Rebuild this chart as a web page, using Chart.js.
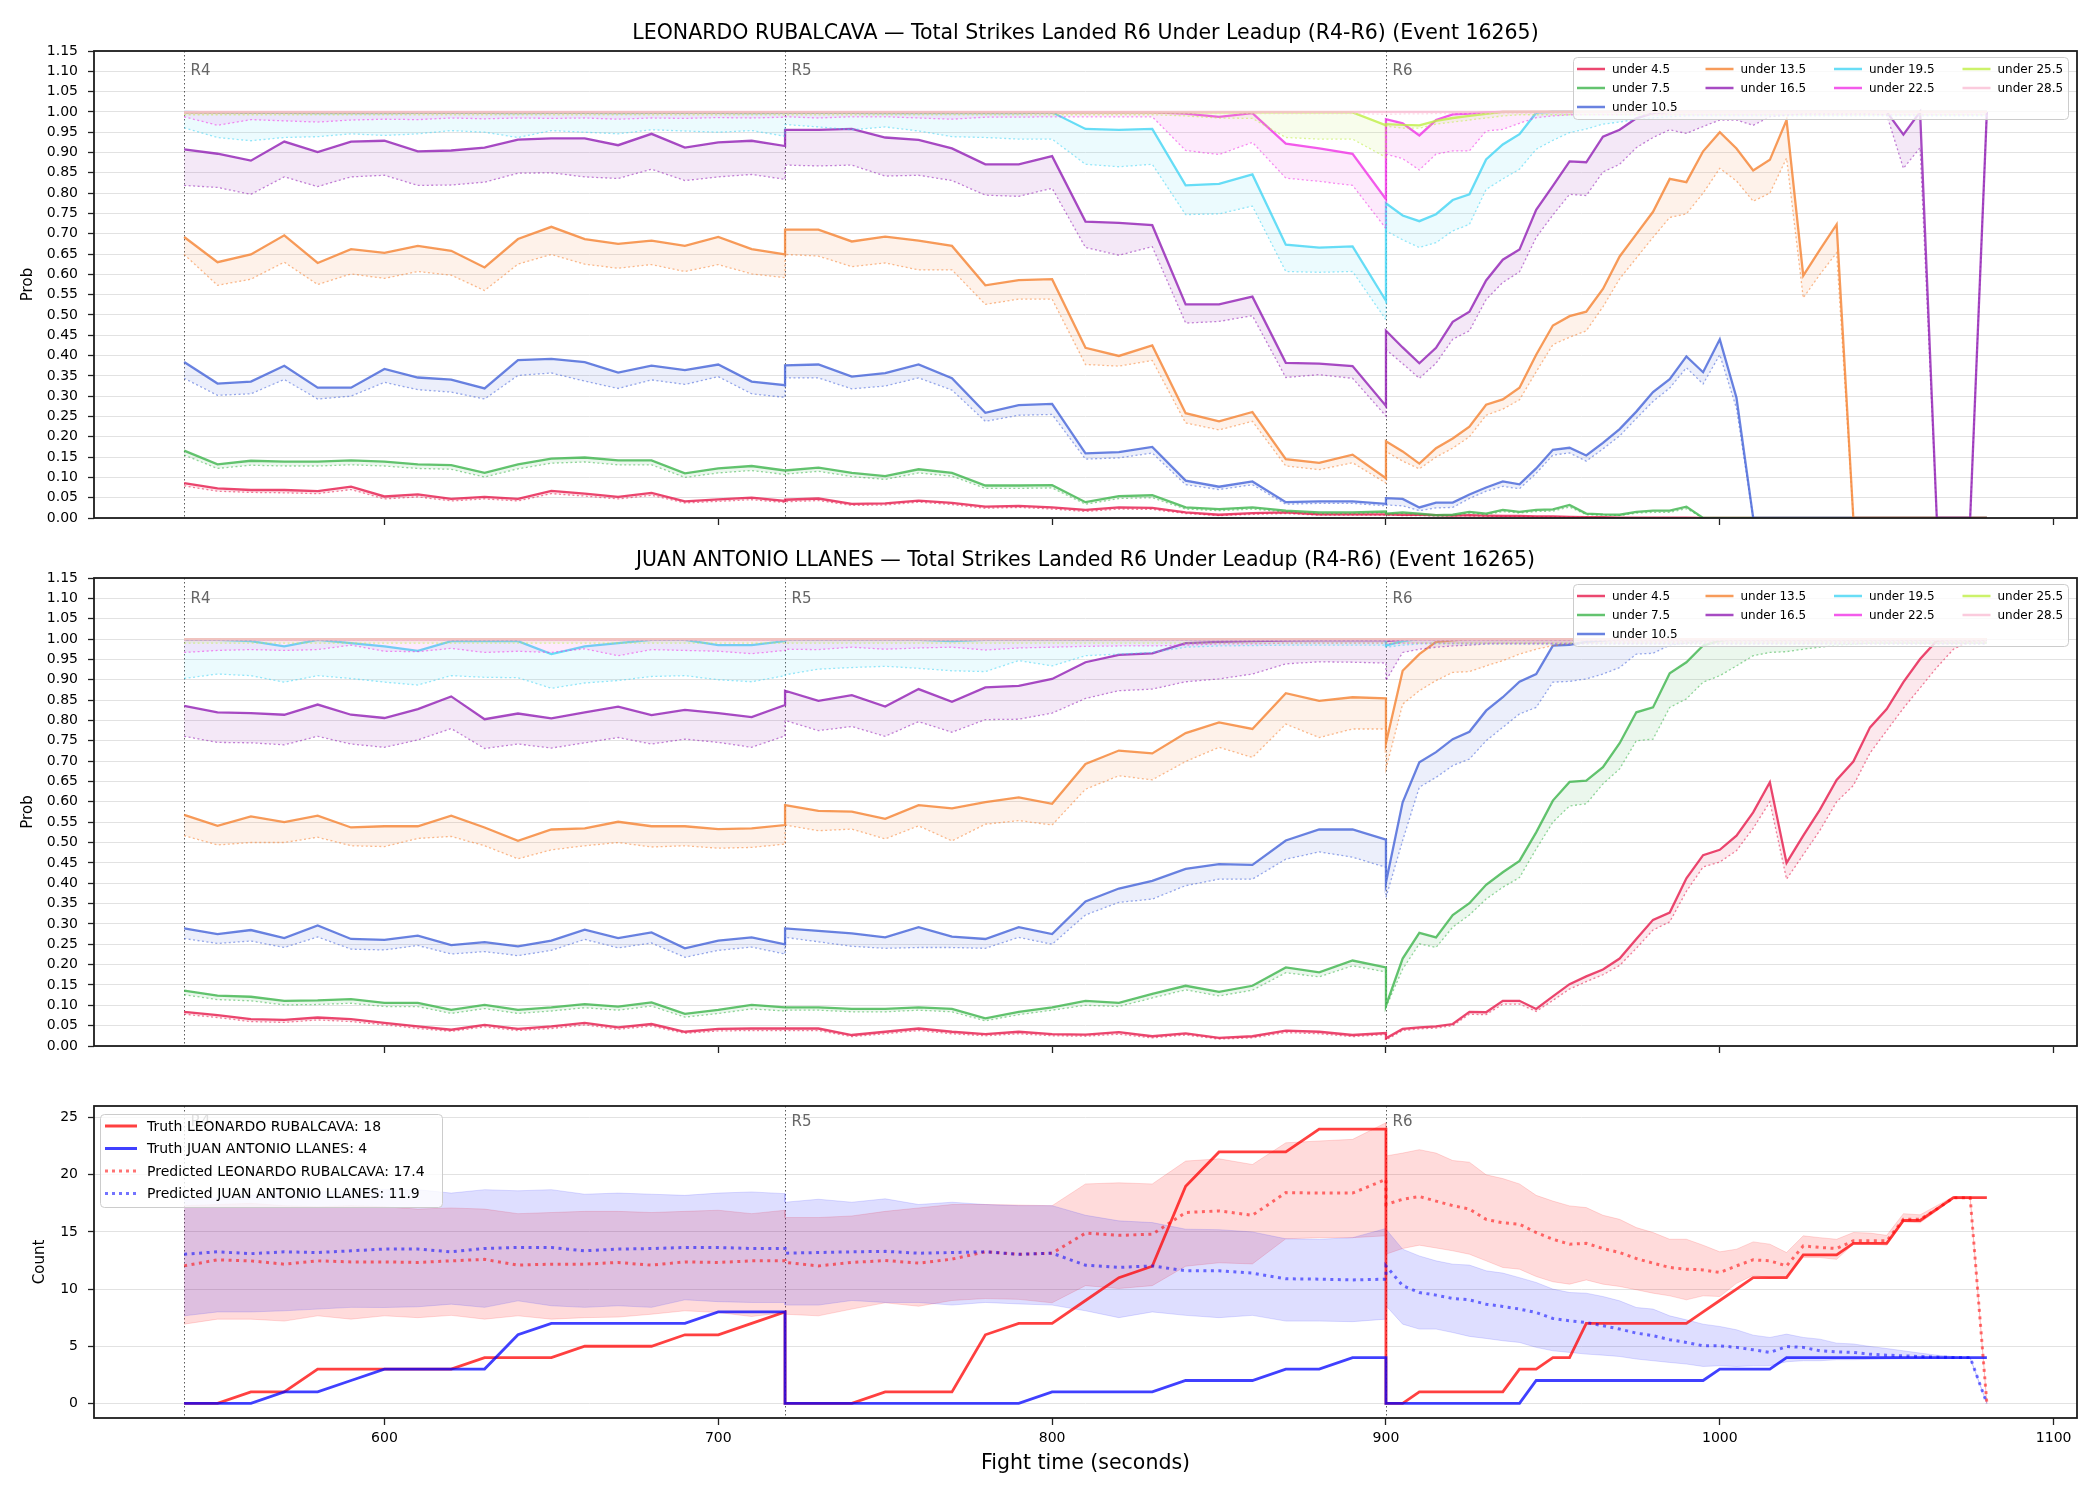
<!DOCTYPE html>
<html>
<head>
<meta charset="utf-8">
<script src="https://cdn.jsdelivr.net/npm/chart.js@4.4.1/dist/chart.umd.min.js"></script>
<style>
  html, body { margin: 0; padding: 0; background: #fff; }
  #wrap { position: relative; width: 2100px; height: 1500px; background: #fff; }
  canvas { position: absolute; left: 0; }
</style>
</head>
<body>
<div id="wrap">
  <canvas id="leoChart" width="2100" height="530" style="top:0px"></canvas>
  <canvas id="juanChart" width="2100" height="530" style="top:530px"></canvas>
  <canvas id="countChart" width="2100" height="440" style="top:1060px"></canvas>
</div>
<script>
// fight time in seconds: R4/R5 every 10s, R6 every 5s (round boundaries repeated)
const times = [
  540,550,560,570,580,590,600,610,620,630,640,650,660,670,680,690,700,710,720,
  720,730,740,750,760,770,780,790,800,810,820,830,840,850,860,870,880,890,900,
  900,905,910,915,920,925,930,935,940,945,950,955,960,965,970,975,980,985,990,995,
  1000,1005,1010,1015,1020,1025,1030,1035,1040,1045,1050,1055,1060,1065,1070,1075,1080
];

const roundStarts = [540, 720, 900];
const roundNames = ['R4', 'R5', 'R6'];
const timeTicks = [600, 700, 800, 900, 1000, 1100];
const timeTickLabels = ['600', '700', '800', '900', '1000', '1100'];
const probTicks = [0,0.05,0.1,0.15,0.2,0.25,0.3,0.35,0.4,0.45,0.5,0.55,0.6,0.65,0.7,0.75,0.8,0.85,0.9,0.95,1,1.05,1.1,1.15];
const probTickLabels = ['0.00','0.05','0.10','0.15','0.20','0.25','0.30','0.35','0.40','0.45','0.50','0.55','0.60','0.65','0.70','0.75','0.80','0.85','0.90','0.95','1.00','1.05','1.10','1.15'];
const countTicks = [0, 5, 10, 15, 20, 25];
const countTickLabels = ['0', '5', '10', '15', '20', '25'];

const lineNames = ['under 4.5','under 7.5','under 10.5','under 13.5','under 16.5','under 19.5','under 22.5','under 25.5','under 28.5'];
const lineColors = ['#e6194b','#3cb44b','#4363d8','#f58231','#911eb4','#42d4f4','#f032e6','#bfef45','#fabed4'];

// ---------- LEONARDO RUBALCAVA ----------
const leoU45 = [
  0.086,0.073,0.069,0.069,0.066,0.077,0.053,0.058,0.047,0.052,0.047,0.067,0.060,0.052,0.062,0.041,0.046,0.050,0.042,
  0.045,0.048,0.035,0.036,0.043,0.037,0.028,0.030,0.026,0.020,0.026,0.025,0.014,0.008,0.012,0.014,0.009,0.009,0.009,
  0.009,0.008,0.008,0.007,0.006,0.007,0.006,0.005,0.005,0.004,0.004,0.003,0.002,0.002,0.001,0.001,0.001,0.001,0.001,
  0,0,0,0,0,0,0,0,0,0,0,0,0,0,0,0,0,0
];
const leoU45lo = [
  0.079,0.066,0.063,0.062,0.060,0.070,0.047,0.052,0.042,0.047,0.042,0.060,0.054,0.047,0.056,0.037,0.041,0.045,0.038,
  0.040,0.043,0.031,0.032,0.039,0.033,0.024,0.026,0.022,0.016,0.022,0.021,0.011,0.006,0.009,0.011,0.007,0.007,0.007,
  0.007,0.006,0.006,0.005,0.005,0.005,0.004,0.004,0.004,0.003,0.003,0.002,0.002,0.001,0.001,0.001,0.001,0.001,0.001,
  0,0,0,0,0,0,0,0,0,0,0,0,0,0,0,0,0,0
];
const leoU75 = [
  0.166,0.132,0.141,0.139,0.139,0.142,0.139,0.132,0.130,0.111,0.132,0.146,0.149,0.142,0.142,0.110,0.122,0.128,0.117,
  0.117,0.124,0.111,0.103,0.120,0.111,0.080,0.080,0.081,0.039,0.054,0.056,0.026,0.022,0.026,0.018,0.014,0.014,0.016,
  0.011,0.014,0.011,0.007,0.008,0.015,0.011,0.020,0.015,0.020,0.021,0.032,0.011,0.009,0.008,0.015,0.018,0.018,0.028,
  0,0,0,0,0,0,0,0,0,0,0,0,0,0,0,0,0,0
];
const leoU75lo = [
  0.155,0.122,0.130,0.128,0.128,0.131,0.128,0.122,0.120,0.101,0.121,0.135,0.138,0.131,0.131,0.100,0.111,0.117,0.107,
  0.108,0.115,0.102,0.095,0.111,0.103,0.073,0.073,0.074,0.034,0.048,0.050,0.022,0.018,0.022,0.015,0.011,0.011,0.013,
  0.008,0.011,0.008,0.005,0.006,0.012,0.008,0.016,0.012,0.016,0.017,0.027,0.008,0.007,0.006,0.012,0.014,0.014,0.023,
  0,0,0,0,0,0,0,0,0,0,0,0,0,0,0,0,0,0
];
const leoU105 = [
  0.384,0.331,0.336,0.375,0.321,0.321,0.367,0.346,0.341,0.319,0.389,0.392,0.384,0.358,0.375,0.364,0.378,0.336,0.327,
  0.376,0.378,0.348,0.357,0.378,0.344,0.259,0.278,0.281,0.159,0.162,0.175,0.092,0.077,0.090,0.039,0.041,0.041,0.035,
  0.049,0.047,0.026,0.038,0.038,0.058,0.075,0.090,0.083,0.122,0.168,0.173,0.154,0.185,0.219,0.262,0.310,0.342,0.398,0.359,0.440,0.296,
  0,0,0,0,0,0,0,0,0,0,0,0,0,0,0
];
const leoU105lo = [
  0.344,0.302,0.306,0.341,0.293,0.300,0.334,0.316,0.310,0.293,0.351,0.357,0.337,0.319,0.340,0.329,0.348,0.306,0.297,
  0.345,0.345,0.318,0.325,0.345,0.315,0.238,0.253,0.255,0.145,0.148,0.160,0.082,0.070,0.082,0.034,0.036,0.036,0.030,
  0.032,0.030,0.018,0.025,0.026,0.048,0.066,0.078,0.072,0.110,0.155,0.160,0.140,0.170,0.202,0.245,0.287,0.320,0.370,0.330,0.402,0.270,
  0,0,0,0,0,0,0,0,0,0,0,0,0,0,0
];
const leoU135 = [
  0.692,0.630,0.649,0.696,0.628,0.662,0.653,0.670,0.658,0.617,0.687,0.717,0.687,0.675,0.683,0.670,0.692,0.662,0.649,
  0.710,0.710,0.681,0.693,0.683,0.670,0.573,0.586,0.588,0.419,0.399,0.425,0.258,0.238,0.261,0.145,0.136,0.156,0.098,
  0.189,0.164,0.134,0.172,0.196,0.225,0.279,0.292,0.321,0.402,0.474,0.497,0.508,0.564,0.644,0.699,0.754,0.835,0.827,0.903,
  0.950,0.910,0.856,0.882,0.980,0.597,0.661,0.723,
  0,0,0,0,0,0,0,0,0
];
const leoU135lo = [
  0.649,0.573,0.588,0.630,0.575,0.601,0.590,0.607,0.598,0.560,0.625,0.649,0.625,0.615,0.624,0.607,0.624,0.601,0.592,
  0.649,0.645,0.619,0.628,0.611,0.611,0.526,0.539,0.539,0.378,0.374,0.388,0.234,0.217,0.238,0.128,0.119,0.136,0.086,
  0.164,0.140,0.121,0.150,0.172,0.200,0.253,0.268,0.291,0.360,0.427,0.445,0.461,0.520,0.589,0.640,0.691,0.740,0.749,0.800,
  0.861,0.830,0.780,0.800,0.886,0.542,0.600,0.653,
  0,0,0,0,0,0,0,0,0
];
const leoU165 = [
  0.908,0.897,0.880,0.927,0.901,0.927,0.929,0.903,0.905,0.912,0.932,0.935,0.935,0.918,0.946,0.912,0.925,0.929,0.916,
  0.956,0.956,0.958,0.937,0.931,0.910,0.871,0.871,0.891,0.730,0.727,0.721,0.526,0.526,0.545,0.382,0.380,0.374,0.276,
  0.461,0.420,0.381,0.419,0.483,0.508,0.585,0.636,0.661,0.759,0.818,0.878,0.876,0.939,0.956,0.984,0.997,
  1,1,1,1,1,1,1,1,1,1,1,1,1,1,0.944,1,0,0,0,1
];
const leoU165lo = [
  0.819,0.814,0.797,0.840,0.816,0.840,0.844,0.819,0.820,0.827,0.849,0.850,0.840,0.836,0.859,0.831,0.840,0.846,0.834,
  0.869,0.867,0.869,0.842,0.844,0.831,0.795,0.792,0.812,0.666,0.647,0.668,0.480,0.484,0.498,0.346,0.353,0.344,0.251,
  0.415,0.380,0.344,0.381,0.440,0.461,0.538,0.580,0.606,0.691,0.746,0.797,0.794,0.852,0.871,0.912,0.937,0.956,0.947,0.964,
  0.980,0.980,0.967,0.988,0.992,0.995,0.995,0.995,0.995,0.995,0.993,0.861,0.912,0,0,0,1
];
const leoU195 = [
  1,0.999,0.998,0.998,0.997,0.998,0.997,0.998,0.998,0.998,0.997,0.998,0.998,0.997,0.998,0.998,0.998,0.997,0.998,
  0.998,0.998,0.998,0.997,0.998,0.997,0.997,0.997,0.999,0.958,0.956,0.958,0.819,0.823,0.846,0.673,0.666,0.669,0.535,
  0.775,0.745,0.731,0.748,0.783,0.797,0.883,0.920,0.945,0.998,
  1,1,1,1,1,1,1,1,1,1,1,1,1,1,1,1,1,1,1,1,1,1,1,1,1,1,1
];
const leoU195lo = [
  0.961,0.937,0.929,0.937,0.939,0.946,0.942,0.946,0.954,0.950,0.937,0.954,0.950,0.946,0.956,0.953,0.950,0.954,0.940,
  0.969,0.963,0.956,0.963,0.953,0.939,0.937,0.933,0.933,0.871,0.865,0.871,0.747,0.749,0.768,0.607,0.605,0.607,0.488,
  0.707,0.685,0.666,0.678,0.707,0.723,0.809,0.835,0.859,0.908,0.930,0.949,0.958,0.970,0.975,0.982,0.985,0.988,0.990,
  0.99,0.99,0.99,0.99,0.99,0.99,0.99,0.99,0.99,0.99,0.99,0.99,0.99,0.99,0.99,0.99,0.99,0.99
];
const leoU225 = [
  0.999,0.999,0.999,0.999,0.999,0.999,0.999,0.999,0.999,0.999,0.999,0.999,0.999,0.999,0.999,0.999,0.999,0.999,0.999,
  0.999,0.999,0.999,0.999,0.999,0.999,0.999,0.999,0.999,0.999,0.999,0.999,0.996,0.988,0.997,0.922,0.910,0.897,0.785,
  0.982,0.972,0.942,0.980,0.994,0.996,0.999,
  1,1,1,1,1,1,1,1,1,1,1,1,1,1,1,1,1,1,1,1,1,1,1,1,1,1,1,1,1,1
];
const leoU225lo = [
  0.988,0.967,0.981,0.978,0.975,0.980,0.982,0.981,0.985,0.983,0.985,0.984,0.985,0.982,0.985,0.984,0.986,0.985,0.987,
  0.988,0.985,0.988,0.988,0.985,0.982,0.987,0.987,0.988,0.988,0.988,0.988,0.905,0.895,0.925,0.837,0.829,0.819,0.713,
  0.896,0.885,0.857,0.896,0.904,0.904,0.953,0.957,0.972,0.986,0.990,
  0.993,0.993,0.993,0.993,0.993,0.993,0.993,0.993,0.993,0.993,0.993,0.993,0.993,0.993,0.993,0.993,0.993,0.993,0.993,0.993,
  0.993,0.993,0.993,0.993,0.993,0.993
];
const leoU255 = [
  0.999,0.999,0.999,0.999,0.999,0.999,0.999,0.999,0.999,0.999,0.999,0.999,0.999,0.999,0.999,0.999,0.999,0.999,0.999,
  0.999,0.999,0.999,0.999,0.999,0.999,0.999,0.999,0.999,0.999,0.999,0.999,0.999,0.999,0.999,0.999,0.999,0.999,0.967,
  0.970,0.968,0.967,0.978,0.985,0.990,0.995,
  1,1,1,1,1,1,1,1,1,1,1,1,1,1,1,1,1,1,1,1,1,1,1,1,1,1,1,1,1,1
];
const leoU255lo = [
  0.993,0.993,0.993,0.993,0.993,0.993,0.993,0.993,0.993,0.993,0.993,0.993,0.993,0.993,0.993,0.993,0.993,0.993,0.993,
  0.993,0.993,0.993,0.993,0.993,0.993,0.993,0.993,0.993,0.993,0.993,0.993,0.990,0.985,0.984,0.937,0.933,0.933,0.888,
  0.965,0.960,0.960,0.970,0.975,0.980,0.985,0.990,
  0.993,0.993,0.993,0.993,0.993,0.993,0.993,0.993,0.993,0.993,0.993,0.993,0.993,0.993,0.993,0.993,0.993,0.993,0.993,0.993,
  0.993,0.993,0.993,0.993,0.993,0.993,0.993,0.993,0.993
];
const leoU285 = [
  1,1,1,1,1,1,1,1,1,1,1,1,1,1,1,1,1,1,1,
  1,1,1,1,1,1,1,1,1,1,1,1,1,1,1,1,1,1,1,
  1,1,1,1,1,1,1,1,1,1,1,1,1,1,1,1,1,1,1,1,1,1,1,1,1,1,1,1,1,1,1,1,1,1,1,1,1
];
const leoU285lo = [
  0.996,0.996,0.996,0.996,0.996,0.996,0.996,0.996,0.996,0.996,0.996,0.996,0.996,0.996,0.996,0.996,0.996,0.996,0.996,
  0.996,0.996,0.996,0.996,0.996,0.996,0.996,0.996,0.996,0.996,0.996,0.996,0.996,0.996,0.996,0.996,0.996,0.996,0.994,
  0.994,0.995,0.995,0.996,0.996,0.996,0.996,0.996,0.996,0.996,0.996,0.996,0.996,0.996,0.996,0.996,0.996,0.996,0.996,
  0.996,0.996,0.996,0.996,0.996,0.996,0.996,0.996,0.996,0.996,0.996,0.996,0.996,0.996,0.996,0.996,0.996,0.996
];

// ---------- JUAN ANTONIO LLANES ----------
const juanU45 = [
  0.084,0.076,0.066,0.064,0.070,0.066,0.057,0.048,0.040,0.052,0.042,0.048,0.057,0.046,0.054,0.035,0.042,0.043,0.043,
  0.043,0.043,0.027,0.035,0.043,0.035,0.029,0.035,0.029,0.028,0.034,0.024,0.031,0.020,0.024,0.038,0.035,0.027,0.032,
  0.019,0.042,0.046,0.048,0.054,0.084,0.083,0.111,0.111,0.091,0.122,0.152,0.171,0.188,0.215,0.263,0.310,0.328,0.412,0.469,
  0.482,0.517,0.574,0.648,0.450,0.517,0.581,0.654,0.699,0.783,0.828,0.894,0.951,0.996,1,1,1
];
const juanU45lo = [
  0.078,0.070,0.060,0.058,0.064,0.060,0.052,0.043,0.036,0.047,0.038,0.043,0.052,0.041,0.049,0.031,0.037,0.038,0.038,
  0.038,0.038,0.023,0.030,0.038,0.030,0.025,0.030,0.025,0.024,0.029,0.020,0.027,0.017,0.020,0.033,0.030,0.023,0.028,
  0.015,0.038,0.042,0.044,0.050,0.078,0.077,0.103,0.103,0.085,0.112,0.140,0.158,0.175,0.198,0.240,0.285,0.305,0.380,0.440,
  0.452,0.480,0.535,0.600,0.410,0.470,0.530,0.600,0.640,0.720,0.775,0.830,0.880,0.930,0.975,0.995,0.998
];
const juanU75 = [
  0.136,0.124,0.121,0.111,0.112,0.115,0.106,0.106,0.089,0.101,0.089,0.095,0.103,0.097,0.107,0.079,0.089,0.101,0.095,
  0.095,0.095,0.091,0.091,0.095,0.091,0.068,0.084,0.095,0.111,0.106,0.128,0.148,0.133,0.148,0.193,0.181,0.210,0.193,
  0.099,0.215,0.278,0.267,0.322,0.351,0.396,0.427,0.455,0.525,0.603,0.649,0.652,0.685,0.744,0.820,0.832,0.916,0.943,0.984,
  0.996,1,1,1,1,1,1,1,1,1,1,1,1,1,1,1,1
];
const juanU75lo = [
  0.126,0.114,0.111,0.101,0.102,0.105,0.097,0.097,0.080,0.092,0.080,0.086,0.094,0.088,0.098,0.071,0.080,0.091,0.086,
  0.088,0.088,0.084,0.084,0.088,0.084,0.062,0.077,0.088,0.100,0.097,0.118,0.138,0.123,0.137,0.180,0.170,0.197,0.182,
  0.095,0.189,0.251,0.242,0.292,0.322,0.361,0.390,0.414,0.484,0.550,0.590,0.595,0.644,0.681,0.750,0.754,0.832,0.853,0.894,
  0.910,0.934,0.959,0.967,0.969,0.975,0.980,0.985,0.987,0.990,0.990,0.990,0.990,0.990,0.990,0.990,0.990
];
const juanU105 = [
  0.289,0.275,0.285,0.265,0.296,0.263,0.261,0.271,0.248,0.255,0.245,0.259,0.286,0.265,0.279,0.240,0.259,0.267,0.250,
  0.289,0.283,0.277,0.267,0.292,0.269,0.263,0.292,0.275,0.355,0.387,0.406,0.435,0.447,0.445,0.505,0.532,0.532,0.507,
  0.402,0.599,0.697,0.722,0.754,0.772,0.824,0.857,0.895,0.914,0.984,0.986,0.993,0.996,
  1,1,1,1,1,1,1,1,1,1,1,1,1,1,1,1,1,1,1,1,1,1,1
];
const juanU105lo = [
  0.264,0.252,0.258,0.242,0.268,0.238,0.236,0.247,0.226,0.232,0.222,0.235,0.262,0.241,0.253,0.218,0.235,0.243,0.226,
  0.267,0.256,0.245,0.240,0.242,0.242,0.240,0.267,0.250,0.322,0.353,0.361,0.394,0.410,0.410,0.459,0.477,0.464,0.439,
  0.365,0.505,0.636,0.660,0.689,0.705,0.750,0.783,0.816,0.832,0.894,0.896,0.902,0.914,0.930,0.963,0.965,0.985,0.990,0.995,
  0.997,0.997,0.997,0.997,0.997,0.997,0.997,0.997,0.997,0.997,0.997,0.997,0.997,0.997,0.997,0.997,0.997
];
const juanU135 = [
  0.568,0.541,0.564,0.550,0.566,0.537,0.540,0.540,0.566,0.537,0.504,0.532,0.535,0.551,0.540,0.540,0.533,0.535,0.543,
  0.592,0.578,0.576,0.558,0.592,0.584,0.599,0.611,0.595,0.693,0.726,0.719,0.769,0.795,0.779,0.867,0.848,0.857,0.854,
  0.744,0.922,0.963,0.993,0.997,
  1,1,1,1,1,1,1,1,1,1,1,1,1,1,1,1,1,1,1,1,1,1,1,1,1,1,1,1,1,1,1,1
];
const juanU135lo = [
  0.517,0.494,0.500,0.500,0.513,0.492,0.490,0.510,0.515,0.492,0.460,0.482,0.492,0.500,0.489,0.492,0.486,0.488,0.496,
  0.543,0.529,0.533,0.509,0.541,0.504,0.545,0.554,0.543,0.631,0.664,0.654,0.699,0.734,0.709,0.791,0.758,0.779,0.779,
  0.681,0.840,0.873,0.898,0.918,0.920,0.934,0.947,0.963,0.975,0.984,0.988,0.990,
  0.993,0.993,0.993,0.993,0.993,0.993,0.993,0.993,0.993,0.993,0.993,0.993,0.993,0.993,0.993,0.993,0.993,0.993,0.993,0.993,
  0.993,0.993,0.993,0.993
];
const juanU165 = [
  0.836,0.820,0.818,0.814,0.839,0.814,0.806,0.828,0.859,0.803,0.817,0.805,0.820,0.834,0.813,0.826,0.818,0.808,0.838,
  0.873,0.848,0.862,0.834,0.877,0.846,0.881,0.885,0.902,0.943,0.961,0.965,0.990,0.993,0.995,0.996,0.997,0.997,0.997,
  0.995,0.998,
  1,1,1,1,1,1,1,1,1,1,1,1,1,1,1,1,1,1,1,1,1,1,1,1,1,1,1,1,1,1,1,1,1,1,1
];
const juanU165lo = [
  0.761,0.746,0.745,0.740,0.761,0.742,0.734,0.752,0.780,0.731,0.742,0.732,0.745,0.758,0.742,0.754,0.746,0.734,0.762,
  0.800,0.775,0.785,0.761,0.797,0.771,0.802,0.803,0.818,0.854,0.873,0.877,0.895,0.902,0.914,0.939,0.944,0.943,0.941,
  0.898,0.967,0.975,0.980,0.983,0.985,
  0.988,0.988,0.988,0.988,0.988,0.988,0.988,0.988,0.988,0.988,0.988,0.988,0.988,0.988,0.988,0.988,0.988,0.988,0.988,0.988,
  0.988,0.988,0.988,0.988,0.988,0.988,0.988,0.988,0.988,0.988,0.988
];
const juanU195 = [
  0.998,0.998,0.995,0.982,0.998,0.990,0.982,0.971,0.995,0.995,0.995,0.963,0.982,0.990,0.998,0.998,0.985,0.985,0.995,
  0.998,0.998,0.998,0.998,0.998,0.995,0.998,0.998,0.998,0.998,0.999,0.999,0.999,0.999,0.999,0.999,0.999,0.999,0.999,
  0.984,0.995,
  1,1,1,1,1,1,1,1,1,1,1,1,1,1,1,1,1,1,1,1,1,1,1,1,1,1,1,1,1,1,1,1,1,1,1
];
const juanU195lo = [
  0.903,0.914,0.910,0.894,0.910,0.903,0.894,0.887,0.910,0.906,0.905,0.879,0.892,0.898,0.908,0.910,0.900,0.895,0.910,
  0.912,0.926,0.930,0.933,0.928,0.922,0.920,0.947,0.934,0.959,0.963,0.967,0.980,0.983,0.984,0.985,0.985,0.985,0.985,
  0.980,0.985,
  0.988,0.988,0.988,0.988,0.988,0.988,0.988,0.988,0.988,0.988,0.988,0.988,0.988,0.988,0.988,0.988,0.988,0.988,0.988,0.988,
  0.988,0.988,0.988,0.988,0.988,0.988,0.988,0.988,0.988,0.988,0.988,0.988,0.988,0.988,0.988
];
const juanU225 = [
  0.999,0.999,0.999,0.999,0.999,0.999,0.999,0.999,0.999,0.999,0.999,0.999,0.999,0.999,0.999,0.999,0.999,0.999,0.999,
  0.999,0.999,0.999,0.999,0.999,0.999,0.999,0.999,0.999,0.999,0.999,0.999,0.999,0.999,0.999,0.999,0.999,0.999,0.999,
  0.999,0.999,0.999,0.999,0.999,0.999,0.999,0.999,0.999,0.999,0.999,0.999,0.999,0.999,0.999,0.999,0.999,0.999,0.999,
  0.999,0.999,0.999,0.999,0.999,0.999,0.999,0.999,0.999,0.999,0.999,0.999,0.999,0.999,0.999,0.999,0.999,0.999
];
const juanU225lo = [
  0.967,0.972,0.974,0.972,0.974,0.985,0.970,0.969,0.977,0.967,0.970,0.967,0.976,0.959,0.974,0.972,0.970,0.964,0.972,
  0.975,0.974,0.980,0.975,0.978,0.980,0.973,0.978,0.980,0.982,0.983,0.983,0.985,0.988,0.988,0.990,0.990,0.990,0.990,
  0.988,0.990,0.990,0.990,0.990,0.990,0.990,0.990,0.990,0.990,0.990,0.990,0.990,0.990,0.990,0.990,0.990,0.990,0.990,
  0.990,0.990,0.990,0.990,0.990,0.990,0.990,0.990,0.990,0.990,0.990,0.990,0.990,0.990,0.990,0.990,0.990,0.990
];
const juanU255 = [
  1,1,1,1,1,1,1,1,1,1,1,1,1,1,1,1,1,1,1,
  1,1,1,1,1,1,1,1,1,1,1,1,1,1,1,1,1,1,1,
  1,1,1,1,1,1,1,1,1,1,1,1,1,1,1,1,1,1,1,1,1,1,1,1,1,1,1,1,1,1,1,1,1,1,1,1,1
];
const juanU255lo = [
  0.990,0.990,0.990,0.990,0.990,0.990,0.990,0.990,0.990,0.990,0.990,0.990,0.990,0.990,0.990,0.990,0.990,0.990,0.990,
  0.990,0.990,0.990,0.990,0.990,0.990,0.990,0.990,0.990,0.990,0.990,0.990,0.990,0.990,0.990,0.990,0.990,0.990,0.990,
  0.990,0.990,0.990,0.990,0.990,0.990,0.990,0.990,0.990,0.990,0.990,0.990,0.990,0.990,0.990,0.990,0.990,0.990,0.990,
  0.990,0.990,0.990,0.990,0.990,0.990,0.990,0.990,0.990,0.990,0.990,0.990,0.990,0.990,0.990,0.990,0.990,0.990
];
const juanU285 = [
  1,1,1,1,1,1,1,1,1,1,1,1,1,1,1,1,1,1,1,
  1,1,1,1,1,1,1,1,1,1,1,1,1,1,1,1,1,1,1,
  1,1,1,1,1,1,1,1,1,1,1,1,1,1,1,1,1,1,1,1,1,1,1,1,1,1,1,1,1,1,1,1,1,1,1,1,1
];
const juanU285lo = [
  0.996,0.996,0.996,0.996,0.996,0.996,0.996,0.996,0.996,0.996,0.996,0.996,0.996,0.996,0.996,0.996,0.996,0.996,0.996,
  0.996,0.996,0.996,0.996,0.996,0.996,0.996,0.996,0.996,0.996,0.996,0.996,0.996,0.996,0.996,0.996,0.996,0.996,0.996,
  0.996,0.996,0.996,0.996,0.996,0.996,0.996,0.996,0.996,0.996,0.996,0.996,0.996,0.996,0.996,0.996,0.996,0.996,0.996,
  0.996,0.996,0.996,0.996,0.996,0.996,0.996,0.996,0.996,0.996,0.996,0.996,0.996,0.996,0.996,0.996,0.996,0.996
];

// ---------- counts ----------
const truthLeo = [
  0,0,1,1,3,3,3,3,3,4,4,4,5,5,5,6,6,7,8,
  0,0,0,1,1,1,6,7,7,9,11,12,19,22,22,22,24,24,24,
  0,0,1,1,1,1,1,1,3,3,4,4,7,7,7,7,7,7,7,8,9,10,11,11,11,13,13,13,14,14,14,16,16,17,18,18,18
];
const truthJuan = [
  0,0,0,1,1,2,3,3,3,3,6,7,7,7,7,7,8,8,8,
  0,0,0,0,0,0,0,0,1,1,1,1,2,2,2,3,3,4,4,
  0,0,0,0,0,0,0,0,0,2,2,2,2,2,2,2,2,2,2,2,3,3,3,3,4,4,4,4,4,4,4,4,4,4,4,4,4
];
const predLeo = [
  12.03,12.56,12.47,12.18,12.47,12.38,12.38,12.33,12.47,12.60,12.10,12.18,12.18,12.33,12.09,12.38,12.33,12.47,12.47,
  12.33,12.03,12.33,12.50,12.27,12.62,13.26,13.05,13.14,14.90,14.70,14.80,16.70,16.84,16.46,18.44,18.40,18.40,19.60,
  17.4,17.86,18.1,17.7,17.3,17.0,16.1,15.8,15.68,14.95,14.36,13.93,14.0,13.55,13.2,12.67,12.27,11.89,11.74,11.68,
  11.45,12.03,12.56,12.47,12.03,13.78,13.64,13.55,14.22,14.22,14.22,16.1,16.1,17.0,18.0,18.0,0
];
const predJuan = [
  13.05,13.26,13.10,13.26,13.20,13.35,13.50,13.50,13.26,13.55,13.64,13.64,13.35,13.50,13.55,13.64,13.64,13.55,13.55,
  13.14,13.20,13.26,13.30,13.14,13.20,13.26,13.05,13.14,12.09,11.90,12.03,11.60,11.60,11.40,10.90,10.87,10.80,10.87,
  12.03,10.3,9.7,9.47,9.18,9.06,8.68,8.48,8.25,7.95,7.43,7.23,7.08,6.79,6.5,6.15,5.92,5.57,5.33,5.04,
  5.04,4.9,4.69,4.46,4.98,4.9,4.6,4.5,4.46,4.3,4.22,4.16,4.1,4.05,4.02,4.02,0
];
const bandLeoHi = [
  17.3,17.4,17.5,17.3,17.2,17.3,17.2,17.0,17.1,17.0,16.6,16.7,16.8,16.8,16.7,16.8,16.9,16.6,16.9,
  16.26,16.26,16.4,16.8,17.1,17.4,17.4,17.35,17.3,19.2,19.3,19.2,21.2,21.4,20.9,22.8,22.96,23.1,24.56,
  21.65,21.9,22.2,21.9,21.25,21.1,20.0,19.67,19.2,18.2,17.7,17.28,17.13,16.46,16.1,15.38,14.95,14.36,14.36,13.84,
  13.26,13.49,14.13,13.93,13.2,14.66,14.5,14.36,14.95,14.9,14.7,16.6,16.5,17.3,18.1,18.1,0
];
const bandLeoLo = [
  6.93,7.37,7.37,7.2,7.66,7.37,7.66,7.5,7.7,7.37,7.66,7.37,7.5,7.55,7.8,8.1,7.95,7.6,7.95,
  7.8,7.66,8.25,8.8,8.5,9.0,9.17,9.1,8.8,10.3,10.05,10.3,12.0,12.3,12.2,14.4,14.5,14.5,14.66,
  13.05,13.55,13.84,13.6,13.35,13.05,12.47,11.89,11.74,11.1,10.64,10.43,10.8,10.43,10.23,9.94,9.64,9.41,9.06,9.41,
  9.35,10.5,11.2,11.0,11.1,12.76,12.76,12.6,13.93,13.93,13.84,15.88,15.8,16.84,17.9,17.9,0
];
const bandJuanHi = [
  17.8,18.0,18.2,18.4,18.5,18.6,18.7,18.7,18.4,18.7,18.6,18.7,18.3,18.4,18.3,18.2,18.4,18.5,18.35,
  17.6,17.86,17.6,17.9,17.4,17.6,17.4,17.3,17.3,16.46,15.97,15.82,15.24,15.2,15.0,14.4,14.36,14.5,15.3,
  15.24,13.49,12.9,12.47,12.18,12.1,11.6,11.4,11.0,10.58,10.0,9.7,9.64,9.35,8.97,8.39,8.25,7.66,7.31,6.93,
  6.73,6.44,5.97,5.77,6.06,5.77,5.62,5.27,5.2,4.98,4.8,4.6,4.4,4.22,4.1,4.02,0
];
const bandJuanLo = [
  7.66,8.0,8.0,8.1,8.25,8.4,8.39,8.45,8.68,8.4,8.97,8.54,8.4,8.54,8.4,9.06,8.9,8.83,8.83,
  8.6,8.6,9.0,8.83,8.83,8.6,8.83,8.7,8.6,8.1,7.5,8.0,7.7,7.5,7.7,7.2,7.2,7.15,7.37,
  8.54,6.93,6.5,6.5,6.2,5.86,5.68,5.48,5.33,4.9,4.6,4.46,4.31,4.22,4.1,3.88,3.73,3.58,3.44,3.23,
  3.29,3.23,3.29,3.29,3.64,3.73,3.73,3.82,3.82,3.85,3.88,3.9,3.92,3.93,3.93,3.93,0
];

const leoLines = [leoU45, leoU75, leoU105, leoU135, leoU165, leoU195, leoU225, leoU255, leoU285];
const leoLows = [leoU45lo, leoU75lo, leoU105lo, leoU135lo, leoU165lo, leoU195lo, leoU225lo, leoU255lo, leoU285lo];
const juanLines = [juanU45, juanU75, juanU105, juanU135, juanU165, juanU195, juanU225, juanU255, juanU285];
const juanLows = [juanU45lo, juanU75lo, juanU105lo, juanU135lo, juanU165lo, juanU195lo, juanU225lo, juanU255lo, juanU285lo];

const FONT = '"DejaVu Sans", sans-serif';
Chart.defaults.font.family = FONT;
Chart.defaults.font.size = 14;
Chart.defaults.color = '#000';

function hexA(hex, a) {
  const n = parseInt(hex.slice(1), 16);
  return 'rgba(' + (n >> 16) + ',' + ((n >> 8) & 255) + ',' + (n & 255) + ',' + a + ')';
}
function xy(ys) { return times.map((t, i) => ({ x: t, y: ys[i] })); }

function drawHandle(ctx, x0, y, len, color, width, dash) {
  ctx.save();
  ctx.strokeStyle = color; ctx.lineWidth = width; ctx.setLineDash(dash || []);
  ctx.beginPath(); ctx.moveTo(x0, y); ctx.lineTo(x0 + len, y); ctx.stroke();
  ctx.restore();
}
function legendBox(ctx, x, y, w, h) {
  ctx.save();
  ctx.beginPath();
  ctx.roundRect(x + 0.5, y + 0.5, w, h, 4);
  ctx.fillStyle = 'rgba(255,255,255,0.8)';
  ctx.fill();
  ctx.strokeStyle = '#cccccc'; ctx.lineWidth = 1;
  ctx.stroke();
  ctx.restore();
}

// round markers, frame, titles, legends
const deco = {
  id: 'deco',
  beforeDatasetsDraw(chart, args, o) {
    const { ctx, chartArea: a } = chart;
    const x = chart.scales.x;
    ctx.save();
    ctx.beginPath(); ctx.rect(a.left, a.top, a.right - a.left, a.bottom - a.top); ctx.clip();
    ctx.font = '15px ' + FONT;
    ctx.fillStyle = '#666';
    ctx.textBaseline = 'top';
    roundStarts.forEach((t, i) => {
      const px = Math.round(x.getPixelForValue(t)) + 0.5;
      ctx.strokeStyle = 'rgba(50,50,50,0.8)'; ctx.lineWidth = 1; ctx.setLineDash([1.5, 2.5]);
      ctx.beginPath(); ctx.moveTo(px, a.top); ctx.lineTo(px, a.bottom); ctx.stroke();
      ctx.fillText(roundNames[i], px + 6, a.top + o.labelOffset);
    });
    ctx.restore();
  },
  afterDraw(chart, args, o) {
    const { ctx, chartArea: a } = chart;
    ctx.save();
    ctx.strokeStyle = '#1c1c1c'; ctx.lineWidth = 1.8;
    ctx.strokeRect(a.left, a.top, a.right - a.left, a.bottom - a.top);
    const cx = (a.left + a.right) / 2;
    ctx.fillStyle = '#000';
    if (o.title) {
      ctx.font = '20.5px ' + FONT; ctx.textAlign = 'center'; ctx.textBaseline = 'alphabetic';
      ctx.fillText(o.title, cx, a.top - 12);
    }
    ctx.save();
    ctx.translate(o.yLabelX, (a.top + a.bottom) / 2); ctx.rotate(-Math.PI / 2);
    ctx.font = '15px ' + FONT; ctx.textAlign = 'center'; ctx.textBaseline = 'middle';
    ctx.fillText(o.yLabel, 0, 0);
    ctx.restore();
    if (o.xLabel) {
      ctx.font = '20.5px ' + FONT; ctx.textAlign = 'center'; ctx.textBaseline = 'middle';
      ctx.fillText(o.xLabel, cx, o.xLabelY);
    }
    ctx.font = (o.legend === 'prob' ? 12 : 14) + 'px ' + FONT;
    ctx.textAlign = 'left'; ctx.textBaseline = 'middle'; ctx.fillStyle = '#000';
    if (o.legend === 'prob') {
      const bw = 495, bh = 62, bx = a.right - 9 - bw, by = a.top + 6;
      legendBox(ctx, bx, by, bw, bh);
      lineNames.forEach((name, i) => {
        const col = i < 3 ? 0 : 1 + Math.floor((i - 3) / 2);
        const row = i < 3 ? i : (i - 3) % 2;
        const hx = bx + 4 + col * 128.5, hy = by + 12 + row * 19;
        drawHandle(ctx, hx, hy, 28, hexA(lineColors[i], 0.8), 2.5);
        ctx.fillText(name, hx + 35, hy + 1);
      });
    } else {
      const bx = a.left + 6, by = a.top + 8, bw = 342, bh = 93;
      legendBox(ctx, bx, by, bw, bh);
      o.items.forEach((it, r) => {
        const hy = by + 12 + r * 22.5;
        drawHandle(ctx, bx + 5, hy, 32, it.color, 3, it.dash);
        ctx.fillText(it.label, bx + 47, hy + 1);
      });
    }
    ctx.restore();
  }
};

function xScale(showLabels, height) {
  return {
    type: 'linear', min: 513, max: 1107,
    afterBuildTicks: s => { s.ticks = timeTicks.map(v => ({ value: v })); },
    afterFit: s => { s.height = height; s.paddingLeft = 0; s.paddingRight = 0; },
    grid: { display: true, drawOnChartArea: false, drawTicks: true, tickLength: 7, tickColor: '#222', tickWidth: 1.3 },
    border: { display: false },
    ticks: { display: showLabels, autoSkip: false, maxRotation: 0, padding: 5, font: { size: 14 }, color: '#000',
      callback: (v, i) => timeTickLabels[i] }
  };
}
function yScale(min, max, ticks, labels) {
  return {
    type: 'linear', min: min, max: max,
    afterBuildTicks: s => { s.ticks = ticks.map(v => ({ value: v })); },
    afterFit: s => { s.width = 94; s.paddingTop = 0; s.paddingBottom = 0; },
    grid: { color: '#e2e2e2', lineWidth: 1, drawTicks: true, tickLength: 6, tickColor: '#222', tickWidth: 1.3 },
    border: { display: false },
    ticks: { autoSkip: false, padding: 10, font: { size: 14 }, color: '#000', callback: (v, i) => labels[i] }
  };
}

function probChart(id, title, lines, lows, padTop, xHeight, labelOffset) {
  const datasets = [];
  lines.forEach((ys, i) => {
    const c = lineColors[i];
    const lineIdx = datasets.length + 1;
    datasets.push({ label: lineNames[i] + ' low', data: xy(lows[i]), borderColor: hexA(c, 0.55), borderWidth: 1.3,
      borderDash: [2, 2.5], backgroundColor: hexA(c, 0.1), fill: lineIdx });
    datasets.push({ label: lineNames[i], data: xy(ys), borderColor: hexA(c, 0.8), borderWidth: 2.3, fill: false });
  });
  datasets.forEach((d, i) => { d.order = datasets.length - i; d.pointRadius = 0; d.tension = 0; });
  return new Chart(document.getElementById(id), {
    type: 'line',
    data: { datasets },
    options: {
      responsive: false, animation: false, devicePixelRatio: 1,
      layout: { padding: { left: 0, right: 23, top: padTop, bottom: 0 } },
      plugins: {
        legend: { display: false }, tooltip: { enabled: false },
        deco: { title: title, yLabel: 'Prob', yLabelX: 28, legend: 'prob', labelOffset: labelOffset }
      },
      scales: { x: xScale(false, xHeight), y: yScale(0, 1.15, probTicks, probTickLabels) }
    },
    plugins: [deco]
  });
}

probChart('leoChart', 'LEONARDO RUBALCAVA \u2014 Total Strikes Landed R6 Under Leadup (R4-R6) (Event 16265)',
  leoLines, leoLows, 51, 12, 13);
probChart('juanChart', 'JUAN ANTONIO LLANES \u2014 Total Strikes Landed R6 Under Leadup (R4-R6) (Event 16265)',
  juanLines, juanLows, 48, 14, 14);

// bottom: truth vs predicted counts
(function () {
  const red = 'rgba(255,0,0,0.75)', blue = 'rgba(0,0,255,0.75)';
  const redDot = 'rgba(255,0,0,0.55)', blueDot = 'rgba(0,0,255,0.55)';
  const redBand = 'rgba(255,0,0,0.14)', blueBand = 'rgba(0,0,255,0.13)';
  const datasets = [
    { data: xy(bandLeoHi), borderColor: redBand, borderWidth: 1, backgroundColor: redBand, fill: 1 },
    { data: xy(bandLeoLo), borderColor: redBand, borderWidth: 1, fill: false },
    { data: xy(bandJuanHi), borderColor: blueBand, borderWidth: 1, backgroundColor: blueBand, fill: 3 },
    { data: xy(bandJuanLo), borderColor: blueBand, borderWidth: 1, fill: false },
    { data: xy(truthLeo), borderColor: red, borderWidth: 2.8, fill: false },
    { data: xy(truthJuan), borderColor: blue, borderWidth: 2.8, fill: false },
    { data: xy(predLeo), borderColor: redDot, borderWidth: 3, borderDash: [3, 4.5], fill: false },
    { data: xy(predJuan), borderColor: blueDot, borderWidth: 3, borderDash: [3, 4.5], fill: false }
  ];
  datasets.forEach((d, i) => { d.order = datasets.length - i; d.pointRadius = 0; d.tension = 0; });
  new Chart(document.getElementById('countChart'), {
    type: 'line',
    data: { datasets },
    options: {
      responsive: false, animation: false, devicePixelRatio: 1,
      layout: { padding: { left: 0, right: 23, top: 46, bottom: 0 } },
      plugins: {
        legend: { display: false }, tooltip: { enabled: false },
        deco: {
          yLabel: 'Count', yLabelX: 40, xLabel: 'Fight time (seconds)', xLabelY: 404, legend: 'count', labelOffset: 9,
          items: [
            { label: 'Truth LEONARDO RUBALCAVA: 18', color: red },
            { label: 'Truth JUAN ANTONIO LLANES: 4', color: blue },
            { label: 'Predicted LEONARDO RUBALCAVA: 17.4', color: redDot, dash: [3, 4] },
            { label: 'Predicted JUAN ANTONIO LLANES: 11.9', color: blueDot, dash: [3, 4] }
          ]
        }
      },
      scales: { x: xScale(true, 82), y: yScale(-1.28, 26.02, countTicks, countTickLabels) }
    },
    plugins: [deco]
  });
})();
</script>
</body>
</html>
